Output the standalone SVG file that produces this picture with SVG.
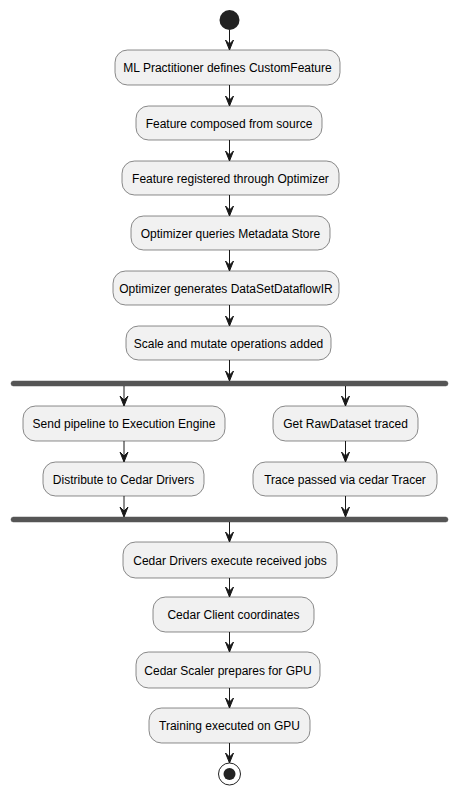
<svg xmlns="http://www.w3.org/2000/svg" width="458" height="795" viewBox="0 0 458 795">
<defs>
<style>
.node rect{fill:#F1F1F1;stroke:#181818;stroke-width:0.5}
.node text{font-family:"Liberation Sans",Arial,sans-serif;font-size:12px;fill:#000;text-anchor:middle}
.bar{fill:#555555;stroke:#555555;stroke-width:0.5}
.conn line{stroke:#181818;stroke-width:1}
.conn polygon{fill:#181818;stroke:#181818;stroke-width:1}
</style>
</defs>
<rect width="458" height="795" fill="#FFFFFF"/>
<g id="start"><circle cx="229.5" cy="20" r="10" fill="#222222"/></g>
<g id="n1" class="node"><rect x="115" y="50" width="225" height="35" rx="12.5"/><text x="227.5" y="72">ML Practitioner defines CustomFeature</text></g>
<g id="n2" class="node"><rect x="136" y="106" width="186" height="34" rx="12.5"/><text x="229" y="127.5">Feature composed from source</text></g>
<g id="n3" class="node"><rect x="122" y="161" width="217" height="34" rx="12.5"/><text x="230.5" y="182.5">Feature registered through Optimizer</text></g>
<g id="n4" class="node"><rect x="131" y="216" width="199" height="34" rx="12.5"/><text x="230.5" y="237.5">Optimizer queries Metadata Store</text></g>
<g id="n5" class="node"><rect x="113" y="271" width="226" height="34" rx="12.5"/><text x="226" y="292.5">Optimizer generates DataSetDataflowIR</text></g>
<g id="n6" class="node"><rect x="126" y="326" width="205" height="34" rx="12.5"/><text x="228.5" y="347.5">Scale and mutate operations added</text></g>
<g id="fork"><rect class="bar" x="11" y="381" width="437" height="5" rx="2.5"/></g>
<g id="l1" class="node"><rect x="23" y="406" width="202" height="35" rx="12.5"/><text x="124" y="428">Send pipeline to Execution Engine</text></g>
<g id="l2" class="node"><rect x="43" y="462" width="161" height="34" rx="12.5"/><text x="123.5" y="483.5">Distribute to Cedar Drivers</text></g>
<g id="r1" class="node"><rect x="273" y="406" width="145" height="35" rx="12.5"/><text x="345.5" y="428">Get RawDataset traced</text></g>
<g id="r2" class="node"><rect x="253" y="462" width="184" height="34" rx="12.5"/><text x="345" y="483.5">Trace passed via cedar Tracer</text></g>
<g id="join"><rect class="bar" x="11" y="517" width="437" height="5" rx="2.5"/></g>
<g id="n7" class="node"><rect x="123" y="542" width="214" height="36" rx="12.5"/><text x="230" y="564.5">Cedar Drivers execute received jobs</text></g>
<g id="n8" class="node"><rect x="153" y="597" width="161" height="35" rx="12.5"/><text x="233.5" y="619">Cedar Client coordinates</text></g>
<g id="n9" class="node"><rect x="136" y="652" width="184" height="36" rx="12.5"/><text x="228" y="674.5">Cedar Scaler prepares for GPU</text></g>
<g id="n10" class="node"><rect x="149" y="708" width="161" height="35" rx="12.5"/><text x="229.5" y="730">Training executed on GPU</text></g>
<g id="end"><circle cx="229.5" cy="774" r="11" fill="none" stroke="#222222" stroke-width="1"/><circle cx="229.5" cy="774" r="6" fill="#222222"/></g>
<g id="connectors" class="conn">
<line x1="229.5" y1="30" x2="229.5" y2="49"/><polygon points="225.5,40 229.5,50 233.5,40 229.5,44"/>
<line x1="229.5" y1="85" x2="229.5" y2="105"/><polygon points="225.5,96 229.5,106 233.5,96 229.5,100"/>
<line x1="229.5" y1="140" x2="229.5" y2="160"/><polygon points="225.5,151 229.5,161 233.5,151 229.5,155"/>
<line x1="229.5" y1="195" x2="229.5" y2="215"/><polygon points="225.5,206 229.5,216 233.5,206 229.5,210"/>
<line x1="229.5" y1="250" x2="229.5" y2="270"/><polygon points="225.5,261 229.5,271 233.5,261 229.5,265"/>
<line x1="229.5" y1="305" x2="229.5" y2="325"/><polygon points="225.5,316 229.5,326 233.5,316 229.5,320"/>
<line x1="229.5" y1="360" x2="229.5" y2="380"/><polygon points="225.5,371 229.5,381 233.5,371 229.5,375"/>
<line x1="124" y1="386" x2="124" y2="405"/><polygon points="120,396 124,406 128,396 124,400"/>
<line x1="345.5" y1="386" x2="345.5" y2="405"/><polygon points="341.5,396 345.5,406 349.5,396 345.5,400"/>
<line x1="124" y1="441" x2="124" y2="461"/><polygon points="120,452 124,462 128,452 124,456"/>
<line x1="345.5" y1="441" x2="345.5" y2="461"/><polygon points="341.5,452 345.5,462 349.5,452 345.5,456"/>
<line x1="124" y1="496" x2="124" y2="516"/><polygon points="120,507 124,517 128,507 124,511"/>
<line x1="345.5" y1="496" x2="345.5" y2="516"/><polygon points="341.5,507 345.5,517 349.5,507 345.5,511"/>
<line x1="229.5" y1="522" x2="229.5" y2="541"/><polygon points="225.5,532 229.5,542 233.5,532 229.5,536"/>
<line x1="229.5" y1="578" x2="229.5" y2="596"/><polygon points="225.5,587 229.5,597 233.5,587 229.5,591"/>
<line x1="229.5" y1="632" x2="229.5" y2="651"/><polygon points="225.5,642 229.5,652 233.5,642 229.5,646"/>
<line x1="229.5" y1="688" x2="229.5" y2="707"/><polygon points="225.5,698 229.5,708 233.5,698 229.5,702"/>
<line x1="229.5" y1="743" x2="229.5" y2="762"/><polygon points="225.5,753 229.5,763 233.5,753 229.5,757"/>
</g>
</svg>
